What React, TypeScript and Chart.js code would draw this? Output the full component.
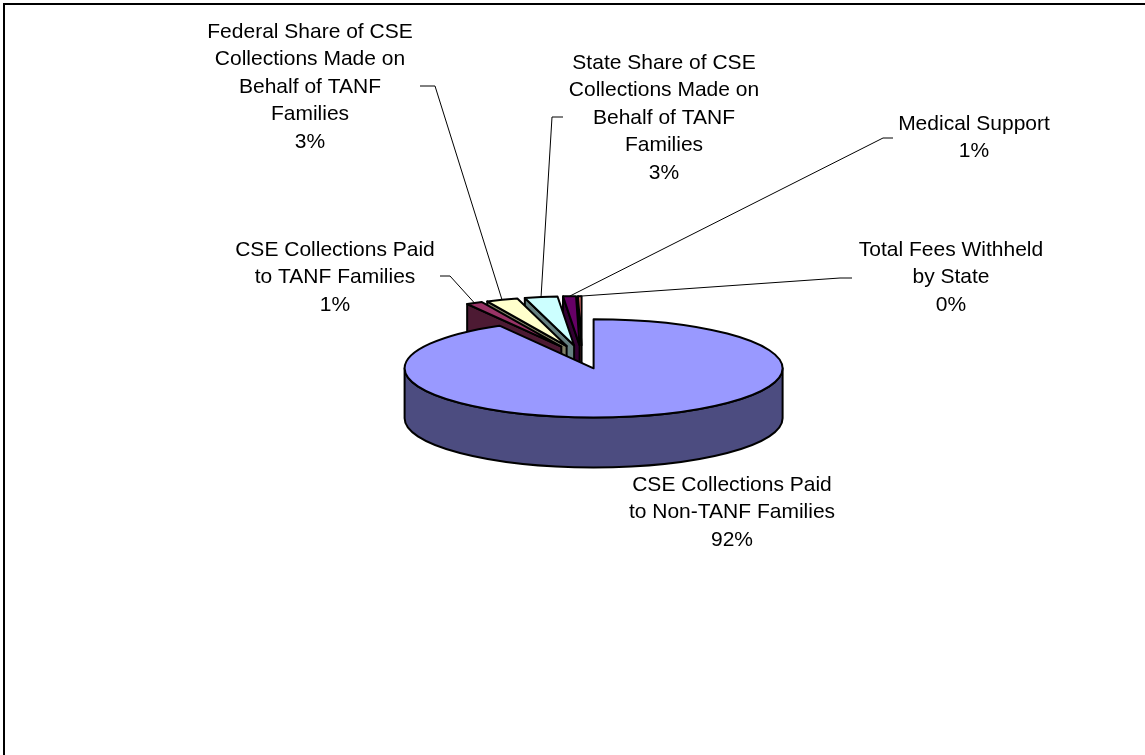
import React, { useEffect, useRef } from 'react';
import { Chart, registerables } from 'chart.js';

Chart.register(...registerables);

// ---- Data ----
const CATEGORIES: string[] = [
  'CSE Collections Paid to Non-TANF Families',
  'CSE Collections Paid to TANF Families',
  'Federal Share of CSE Collections Made on Behalf of TANF Families',
  'State Share of CSE Collections Made on Behalf of TANF Families',
  'Medical Support',
  'Total Fees Withheld by State',
];
const VALUES: number[] = [91.7, 1.4, 2.7, 2.8, 1.1, 0.3];

// ---- Styles ----
const TOP_COLORS: string[] = ['#9999FF', '#993366', '#FFFFCC', '#CCFFFF', '#660066', '#FF8080'];
const SIDE_COLORS: string[] = ['#4C4C80', '#4D1A33', '#808066', '#668080', '#330033', '#804040'];

// label layout: center x, first-line center y, optional leader knee and stub end
const LABEL_LAYOUT: { x: number; y: number; knee?: [number, number]; stub?: number }[] = [
  { x: 732, y: 485 },
  { x: 335, y: 250, knee: [450, 276], stub: 440 },
  { x: 310, y: 32, knee: [435, 86], stub: 420 },
  { x: 664, y: 63, knee: [552, 117], stub: 563 },
  { x: 974, y: 124, knee: [883, 138], stub: 893 },
  { x: 951, y: 250, knee: [840, 278], stub: 852 },
];

const W = 1145;
const H = 755;
const SQUASH = 0.26;
const DEPTH = 50;
const FONT = '21px "Liberation Sans", Arial, Helvetica, sans-serif';
const LINE_H = 27.5;
const WRAP_W = 210;

function geom(el: any) {
  const p = el.getProps(['x', 'y', 'startAngle', 'endAngle', 'outerRadius'], true);
  const off = (el.options && el.options.offset) || 0;
  const mid = (p.startAngle + p.endAngle) / 2;
  return {
    ax: p.x + Math.cos(mid) * off,
    ay: p.y + Math.sin(mid) * off * SQUASH,
    rx: p.outerRadius,
    ry: p.outerRadius * SQUASH,
    a0: p.startAngle,
    a1: p.endAngle,
    mid,
  };
}

function wrap(ctx: CanvasRenderingContext2D, text: string, maxW: number): string[] {
  const words = text.split(' ');
  const lines: string[] = [];
  let cur = '';
  for (const w of words) {
    const t = cur ? cur + ' ' + w : w;
    if (cur && ctx.measureText(t).width > maxW) {
      lines.push(cur);
      cur = w;
    } else cur = t;
  }
  if (cur) lines.push(cur);
  return lines;
}

const pie3d = {
  id: 'pie3d',
  beforeDraw(chart: any) {
    const ctx = chart.ctx as CanvasRenderingContext2D;
    ctx.save();
    ctx.fillStyle = '#FFFFFF';
    ctx.fillRect(0, 0, chart.width, chart.height);
    ctx.strokeStyle = '#000000';
    ctx.lineWidth = 2;
    ctx.beginPath();
    ctx.moveTo(3, 4);
    ctx.lineTo(chart.width, 4);
    ctx.moveTo(4, 3);
    ctx.lineTo(4, chart.height);
    ctx.stroke();
    ctx.restore();
  },
  beforeDatasetsDraw(chart: any) {
    const ctx = chart.ctx as CanvasRenderingContext2D;
    const meta = chart.getDatasetMeta(0);
    const items = meta.data.map((el: any, i: number) => ({ i, g: geom(el) }));
    items.sort((a: any, b: any) => Math.sin(a.g.mid) - Math.sin(b.g.mid));
    ctx.save();
    ctx.lineWidth = 2;
    ctx.strokeStyle = '#000000';
    ctx.lineJoin = 'round';
    for (const it of items) {
      const { ax, ay, rx, ry, a0, a1 } = it.g;
      if (a1 - a0 <= 0) continue;
      const side = SIDE_COLORS[it.i];
      const top = TOP_COLORS[it.i];
      const face = (a: number) => {
        const px = ax + rx * Math.cos(a);
        const py = ay + ry * Math.sin(a);
        ctx.beginPath();
        ctx.moveTo(ax, ay);
        ctx.lineTo(px, py);
        ctx.lineTo(px, py + DEPTH);
        ctx.lineTo(ax, ay + DEPTH);
        ctx.closePath();
        ctx.fillStyle = side;
        ctx.fill();
        ctx.stroke();
      };
      if (Math.cos(a0) < -1e-6) face(a0);
      if (Math.cos(a1) > 1e-6) face(a1);
      for (let n = -1; n <= 1; n++) {
        const lo = Math.max(a0, 2 * Math.PI * n);
        const hi = Math.min(a1, 2 * Math.PI * n + Math.PI);
        if (hi > lo) {
          ctx.beginPath();
          ctx.ellipse(ax, ay, rx, ry, 0, lo, hi);
          ctx.ellipse(ax, ay + DEPTH, rx, ry, 0, hi, lo, true);
          ctx.closePath();
          ctx.fillStyle = side;
          ctx.fill();
          ctx.stroke();
        }
      }
      ctx.beginPath();
      ctx.moveTo(ax, ay);
      ctx.ellipse(ax, ay, rx, ry, 0, a0, a1);
      ctx.closePath();
      ctx.fillStyle = top;
      ctx.fill();
      ctx.stroke();
    }
    ctx.restore();
    return false;
  },
  afterDraw(chart: any) {
    const ctx = chart.ctx as CanvasRenderingContext2D;
    const meta = chart.getDatasetMeta(0);
    const data: number[] = chart.data.datasets[0].data;
    const labels: string[] = chart.data.labels;
    const total = data.reduce((s, v) => s + v, 0);
    ctx.save();
    ctx.font = FONT;
    ctx.fillStyle = '#000000';
    ctx.textAlign = 'center';
    ctx.textBaseline = 'middle';
    meta.data.forEach((el: any, i: number) => {
      const lay = LABEL_LAYOUT[i];
      if (!lay) return;
      const lines = wrap(ctx, labels[i], WRAP_W);
      lines.push(Math.round((data[i] / total) * 100) + '%');
      lines.forEach((ln, j) => ctx.fillText(ln, lay.x, lay.y + j * LINE_H));
      if (lay.knee && lay.stub !== undefined) {
        const g = geom(el);
        const px = g.ax + g.rx * Math.cos(g.mid);
        const py = g.ay + g.ry * Math.sin(g.mid);
        ctx.save();
        ctx.strokeStyle = '#000000';
        ctx.lineWidth = 1;
        ctx.beginPath();
        ctx.moveTo(px, py);
        ctx.lineTo(lay.knee[0], lay.knee[1]);
        ctx.lineTo(lay.stub, lay.knee[1]);
        ctx.stroke();
        ctx.restore();
      }
    });
    ctx.restore();
  },
};

export default function App() {
  const ref = useRef<HTMLCanvasElement | null>(null);
  useEffect(() => {
    if (!ref.current) return;
    const chart = new Chart(ref.current, {
      type: 'pie',
      data: {
        labels: CATEGORIES,
        datasets: [
          {
            data: VALUES,
            backgroundColor: TOP_COLORS,
            borderWidth: 0,
            offset: 45,
          },
        ],
      },
      options: {
        responsive: false,
        animation: false,
        radius: 189,
        layout: { padding: { left: 19, right: 0, top: 0, bottom: 41 } },
        plugins: {
          legend: { display: false },
          tooltip: { enabled: false },
        },
        events: [],
      } as any,
      plugins: [pie3d as any],
    });
    return () => chart.destroy();
  }, []);
  return (
    <div style={{ position: 'fixed', left: 0, top: 0, width: W, height: H, background: '#fff' }}>
      <canvas ref={ref} width={W} height={H} style={{ display: 'block', width: W, height: H }} />
    </div>
  );
}
